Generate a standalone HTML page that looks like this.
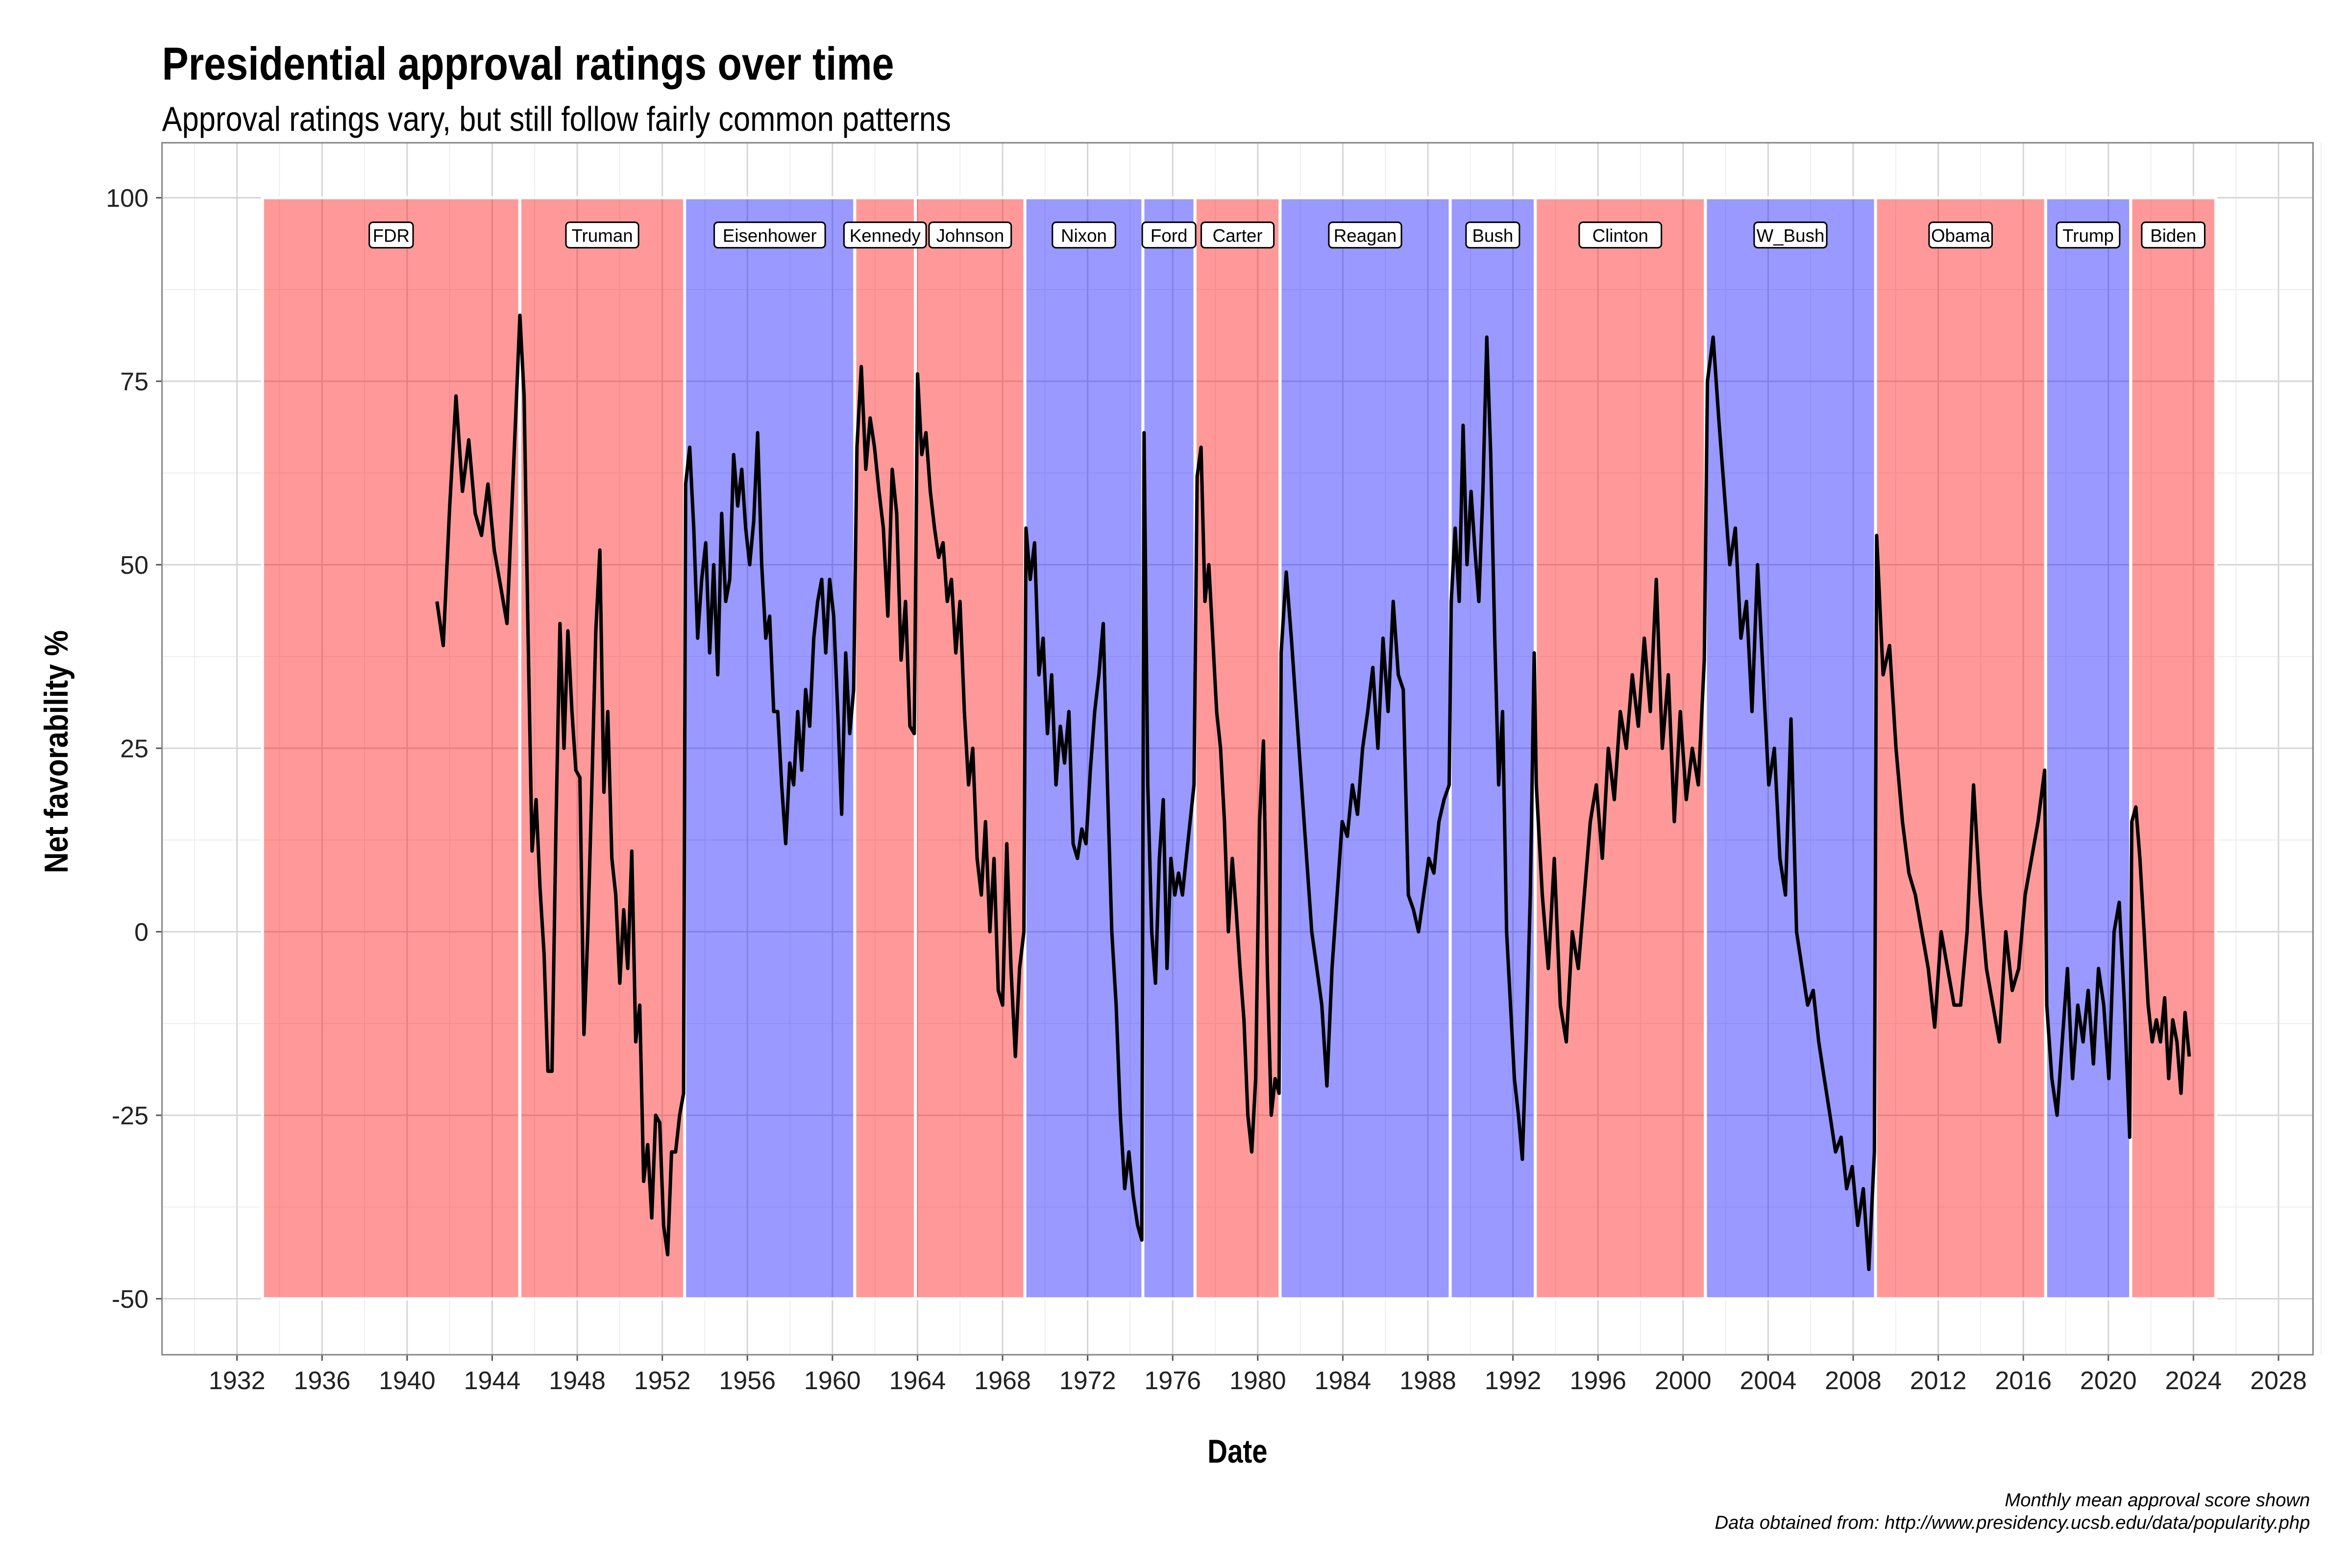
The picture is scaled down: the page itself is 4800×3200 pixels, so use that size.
<!DOCTYPE html>
<html><head><meta charset="utf-8"><style>
html,body{margin:0;padding:0;background:#fff}
svg{display:block}
text{font-family:"Liberation Sans Narrow","Liberation Sans",sans-serif}
</style></head><body>
<svg id="chart" width="4800" height="3200" viewBox="0 0 1568 1045" xmlns="http://www.w3.org/2000/svg">
<rect width="1568" height="1045" fill="#fff"/>
<text x="108" y="53" font-size="31" font-weight="bold" textLength="488" lengthAdjust="spacingAndGlyphs">Presidential approval ratings over time</text>
<text x="108" y="87" font-size="23" textLength="526" lengthAdjust="spacingAndGlyphs">Approval ratings vary, but still follow fairly common patterns</text>
<g id="grid"></g><g id="terms"></g><g id="line"></g><g id="labels"></g><g id="axes"></g>
<rect x="108" y="95" width="1434" height="808" fill="none" stroke="#888" stroke-width="1"/>
<text transform="translate(45,582) rotate(-90)" font-size="22" font-weight="bold" textLength="162" lengthAdjust="spacingAndGlyphs">Net favorability %</text>
<text x="805" y="975" font-size="22" font-weight="bold" textLength="40" lengthAdjust="spacingAndGlyphs">Date</text>
<text x="1540" y="1004" text-anchor="end" font-size="12.5" font-style="italic" style="font-family:'Liberation Sans',sans-serif">Monthly mean approval score shown</text>
<text x="1540" y="1019" text-anchor="end" font-size="12.5" font-style="italic" style="font-family:'Liberation Sans',sans-serif">Data obtained from: http://www.presidency.ucsb.edu/data/popularity.php</text>
</svg>
<script>
const presidents=["FDR","Truman","Eisenhower","Kennedy","Johnson","Nixon","Ford","Carter","Reagan","Bush","Clinton","W_Bush","Obama","Trump","Biden"];
const termStart=[1933.2,1945.3,1953.05,1961.05,1963.9,1969.05,1974.6,1977.05,1981.05,1989.05,1993.05,2001.05,2009.05,2017.05,2021.05];
const termEnd=[1945.3,1953.05,1961.05,1963.9,1969.05,1974.6,1977.05,1981.05,1989.05,1993.05,2001.05,2009.05,2017.05,2021.05,2025.05];
const party=["D","D","R","D","D","R","R","D","R","R","D","R","D","R","D"];
const dataStart=[1941.4,1945.5,1953.1,1961.15,1964.0,1969.1,1974.65,1977.15,1981.1,1989.1,1993.1,2001.15,2009.1,2017.1,2021.1];
const dataEnd=[1945.3,1953.0,1961.0,1963.85,1969.0,1974.55,1977.0,1981.0,1989.0,1993.0,2001.0,2009.0,2017.0,2021.0,2023.8];
const approval=[
[45,39,58,73,60,67,57,54,61,52,47,42,63,84],
[73,41,11,18,6,-3,-19,-19,15,42,25,41,30,22,21,-14,0,20,41,52,19,30,10,5,-7,3,-5,11,-15,-10,-34,-29,-39,-25,-26,-40,-44,-30,-30,-25,-22],
[61,66,55,40,48,53,38,50,35,57,45,48,65,58,63,55,50,56,68,50,40,43,30,30,20,12,23,20,30,22,33,28,40,45,48,38,48,43,30,16,38,27,33],
[66,77,63,70,66,60,55,43,63,57,37,45,28,27],
[76,65,68,60,55,51,53,45,48,38,45,30,20,25,10,5,15,0,10,-8,-10,12,-5,-17,-5,0],
[55,48,53,35,40,27,35,20,28,23,30,12,10,14,12,22,30,35,42,20,0,-10,-25,-35,-30,-36,-40,-42],
[68,20,0,-7,10,18,-5,10,5,8,5,10,15,20],
[62,66,45,50,40,30,25,15,0,10,3,-5,-12,-25,-30,-20,15,26,-5,-25,-20,-22],
[38,49,40,30,20,10,0,-5,-10,-21,-5,5,15,13,20,16,25,30,36,25,40,30,45,35,33,5,3,0,5,10,8,15,18,20],
[45,55,45,69,50,60,52,45,60,81,65,40,20,30,0,-10,-20,-25,-31,-15,5,38],
[20,5,-5,10,-10,-15,0,-5,5,15,20,10,25,18,30,25,35,28,40,30,48,25,35,15,30,18,25,20,37],
[75,81,70,60,50,55,40,45,30,50,35,20,25,10,5,29,0,-5,-10,-8,-15,-20,-25,-30,-28,-35,-32,-40,-35,-46,-30],
[54,35,39,25,15,8,5,0,-5,-13,0,-5,-10,-10,0,20,5,-5,-10,-15,0,-8,-5,5,10,15,22],
[-10,-20,-25,-15,-5,-20,-10,-15,-8,-18,-5,-10,-20,0,4,-10,-28],
[15,17,10,0,-10,-15,-12,-15,-9,-20,-12,-15,-22,-11,-17]
];
const yTicks=[-50,-25,0,25,50,75,100];
const yTickLabels=["-50","-25","0","25","50","75","100"];
const xTicks=[1932,1936,1940,1944,1948,1952,1956,1960,1964,1968,1972,1976,1980,1984,1988,1992,1996,2000,2004,2008,2012,2016,2020,2024,2028];

const NS="http://www.w3.org/2000/svg";
const X=yr=>158+(yr-1932)*(1361/96);
const Y=v=>621-v*(734/150);
function mk(tag,attrs,parent){const e=document.createElementNS(NS,tag);for(const k in attrs)e.setAttribute(k,attrs[k]);parent.appendChild(e);return e;}
const grid=document.getElementById('grid'),terms=document.getElementById('terms'),line=document.getElementById('line'),labels=document.getElementById('labels'),axes=document.getElementById('axes');
for(let i=0;i<yTicks.length-1;i++){const v=(yTicks[i]+yTicks[i+1])/2;const l=mk('line',{x1:108,x2:1542,y1:Y(v),y2:Y(v),stroke:'#ededed','stroke-width':0.6},grid);

}
for(let i=-1;i<xTicks.length;i++){const t=(i<0?xTicks[0]-2:xTicks[i]+2);const l=mk('line',{x1:X(t),x2:X(t),y1:95,y2:903,stroke:'#ededed','stroke-width':0.6},grid);

}
yTicks.forEach((v,i)=>{const l=mk('line',{x1:108,x2:1542,y1:Y(v),y2:Y(v),stroke:'#d6d6d6','stroke-width':1},grid);


const tk=mk('line',{x1:104,x2:108,y1:Y(v),y2:Y(v),stroke:'#555','stroke-width':1},axes);


const t=mk('text',{x:99,y:Y(v)+6,'text-anchor':'end','font-size':17,fill:'#222'},axes);t.textContent=yTickLabels[i];

});
xTicks.forEach(yr=>{const l=mk('line',{x1:X(yr),x2:X(yr),y1:95,y2:903,stroke:'#d6d6d6','stroke-width':1},grid);


const tk=mk('line',{x1:X(yr),x2:X(yr),y1:903,y2:907,stroke:'#555','stroke-width':1},axes);


const t=mk('text',{x:X(yr),y:926,'text-anchor':'middle','font-size':17,fill:'#222'},axes);t.textContent=String(yr);

});
presidents.forEach((p,i)=>{const x1=X(termStart[i]),x2=X(termEnd[i]);
const r=mk('rect',{x:x1,y:Y(100),width:x2-x1,height:Y(-50)-Y(100),fill:party[i]==='D'?'#ff0000':'#0000ff','fill-opacity':0.4,stroke:'#fff','stroke-width':2},terms);


const cx=(x1+x2)/2;const w=p.length*6.4+10;
const g=mk('g',{},labels);


mk('rect',{x:cx-w/2,y:148,width:w,height:17,rx:2.5,fill:'#fff',stroke:'#000','stroke-width':1},g);
const t=mk('text',{x:cx,y:161,'text-anchor':'middle','font-size':12,style:"font-family:'Liberation Sans',sans-serif"},g);t.textContent=p;});
let pts=[];
approval.forEach((arr,i)=>{const n=arr.length;arr.forEach((v,j)=>{const yr=dataStart[i]+(n>1?(dataEnd[i]-dataStart[i])*j/(n-1):0);pts.push(X(yr).toFixed(1)+','+Y(v).toFixed(1));});});
const pl=mk('polyline',{points:pts.join(' '),fill:'none',stroke:'#000','stroke-width':2.3,'stroke-linejoin':'round'},line);


</script>
</body></html>
